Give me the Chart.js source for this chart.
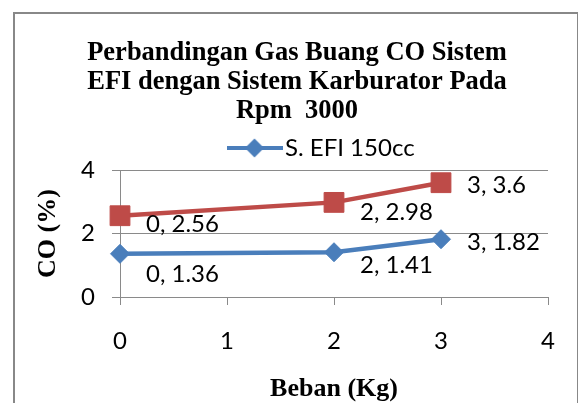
<!DOCTYPE html>
<html><head><meta charset="utf-8">
<script src="https://cdn.jsdelivr.net/npm/chart.js@4.4.0/dist/chart.umd.min.js"></script>
<style>
html,body{margin:0;padding:0;background:#fff;overflow:hidden;width:578px;height:403px;}
#frame{position:absolute;left:13px;top:12px;width:565px;height:420px;border-left:2px solid #888;border-top:2px solid #888;border-right:1px solid #888;box-sizing:border-box;}
#wrap{position:absolute;left:0;top:0;width:578px;height:403px;}
</style></head><body>
<div id="frame"></div>
<div id="wrap"><canvas id="c" width="578" height="403"></canvas></div>
<script>
// ---- data ----
const titleLines = ['Perbandingan Gas Buang CO Sistem', 'EFI dengan Sistem Karburator Pada', 'Rpm  3000'];
const seriesNames = ['S. EFI 150cc', 'S. Karburator'];
const loadKg = [0, 2, 3];
const efiCO = [1.36, 1.41, 1.82];
const karbCO = [2.56, 2.98, 3.6];
const xTicks = [0, 1, 2, 3, 4];
const yTicks = [0, 2, 4];
const xTitle = 'Beban (Kg)';
const yTitle = 'CO (%)';

const BLUE = '#4A7EBB';
const RED = '#BE4B48';
const GRID = '#8a8a8a';

// legend symbol: line + diamond
const legImg = document.createElement('canvas');
legImg.width = 56; legImg.height = 22;
(function(){
  const g = legImg.getContext('2d');
  g.strokeStyle = BLUE; g.lineWidth = 4;
  g.beginPath(); g.moveTo(0, 11); g.lineTo(56, 11); g.stroke();
  g.fillStyle = BLUE;
  g.beginPath(); g.moveTo(28 - 9.5, 11); g.lineTo(28, 11 - 9.5); g.lineTo(28 + 9.5, 11); g.lineTo(28, 11 + 9.5); g.closePath(); g.fill();
})();

const pointLabels = {
  id: 'pointLabels',
  afterDatasetsDraw(chart) {
    const ctx = chart.ctx;
    ctx.save();
    ctx.font = '24px Lato';
    ctx.fillStyle = '#000';
    ctx.textAlign = 'left';
    ctx.textBaseline = 'middle';
    chart.data.datasets.forEach((ds, di) => {
      const meta = chart.getDatasetMeta(di);
      meta.data.forEach((pt, i) => {
        const p = ds.data[i];
        ctx.fillText(p.x + ', ' + p.y, pt.x + 26, pt.y + ds.labelDy[i]);
      });
    });
    ctx.restore();
  }
};

const placeBlocks = {
  id: 'placeBlocks',
  afterLayout(chart) {
    const t = chart.titleBlock;
    if (t) { t.left = 16; t.right = 578; }
    const l = chart.legend;
    if (l && l.lineWidths) {
      const lw = l.lineWidths[0];
      // place first legend item start at x = 236
      l.right = 548;
      l.left = 2 * 236 - 10 + lw - l.right;
    }
  }
};

function build() {
  const ctx = document.getElementById('c').getContext('2d');
  new Chart(ctx, {
    type: 'line',
    data: {
      datasets: [
        {
          label: seriesNames[0],
          data: loadKg.map((x, i) => ({x: x, y: efiCO[i]})),
          borderColor: BLUE, backgroundColor: BLUE,
          borderWidth: 4.5, pointStyle: 'rectRot', pointRadius: 9.5,
          pointBorderWidth: 1, pointBorderColor: BLUE, pointBackgroundColor: BLUE,
          clip: false, labelDy: [20, 13, 3]
        },
        {
          label: seriesNames[1],
          data: loadKg.map((x, i) => ({x: x, y: karbCO[i]})),
          borderColor: RED, backgroundColor: RED,
          borderWidth: 4.5, pointStyle: 'rect', pointRadius: 14,
          pointBorderWidth: 1, pointBorderColor: RED, pointBackgroundColor: RED,
          clip: false, labelDy: [9, 10, 3]
        }
      ]
    },
    options: {
      responsive: false,
      animation: false,
      events: [],
      layout: { padding: { left: 0, right: 30, top: 0, bottom: 0 } },
      plugins: {
        title: {
          display: true,
          text: titleLines,
          color: '#000',
          font: { family: 'Liberation Serif', size: 26.5, weight: 'bold', lineHeight: '29px' },
          padding: { top: 39, bottom: 0 }
        },
        legend: {
          display: true,
          position: 'top',
          labels: {
            color: '#000',
            font: { family: 'Lato', size: 24 },
            usePointStyle: true,
            pointStyleWidth: 37,
            padding: 10,
            generateLabels: (chart) => [{
              text: chart.data.datasets[0].label,
              fillStyle: BLUE, strokeStyle: BLUE, lineWidth: 0,
              pointStyle: legImg, datasetIndex: 0, hidden: false, fontColor: '#000'
            }]
          }
        },
        tooltip: { enabled: false }
      },
      scales: {
        x: {
          type: 'linear',
          min: xTicks[0], max: xTicks[xTicks.length - 1],
          afterBuildTicks: (s) => { s.ticks = xTicks.map(v => ({value: v})); },
          afterFit: (s) => { s.height = 106; },
          ticks: { color: '#000', font: { family: 'Lato', size: 24 }, padding: 22, maxRotation: 0, autoSkip: false },
          grid: { display: true, drawOnChartArea: false, drawTicks: true, tickLength: 8, color: GRID, lineWidth: 1 },
          border: { display: true, color: GRID, width: 1 },
          title: {
            display: true, text: xTitle, color: '#000',
            font: { family: 'Liberation Serif', size: 26, weight: 'bold' },
            padding: { top: 0, bottom: -2 }
          }
        },
        y: {
          min: yTicks[0], max: yTicks[yTicks.length - 1],
          afterBuildTicks: (s) => { s.ticks = yTicks.map(v => ({value: v})); },
          afterFit: (s) => { s.width = 120; },
          ticks: { color: '#000', font: { family: 'Lato', size: 24 }, padding: 17 },
          grid: { display: true, drawOnChartArea: true, drawTicks: true, tickLength: 8, color: GRID, lineWidth: 1 },
          border: { display: true, color: GRID, width: 1 },
          title: {
            display: true, text: yTitle, color: '#000',
            font: { family: 'Liberation Serif', size: 26, weight: 'bold' },
            padding: { top: 32.4, bottom: 0 }
          }
        }
      }
    },
    plugins: [placeBlocks, pointLabels]
  });
}

Promise.all([
  document.fonts.load('24px Lato'),
  document.fonts.load('bold 26px "Liberation Serif"')
]).then(build, build);
</script>
</body></html>
